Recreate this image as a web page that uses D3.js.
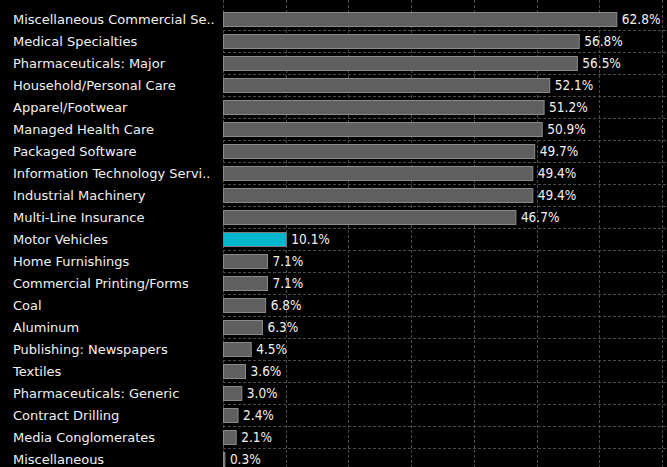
<!DOCTYPE html>
<html>
<head>
<meta charset="utf-8">
<script src="https://cdn.jsdelivr.net/npm/d3@7"></script>
<style>
  html, body { margin: 0; padding: 0; background: #000; }
  svg { display: block; }
</style>
</head>
<body>
<div id="chart"></div>
<script>
// industries, in chart order (top to bottom)
const categories = [
    "Miscellaneous Commercial Se..",
    "Medical Specialties",
    "Pharmaceuticals: Major",
    "Household/Personal Care",
    "Apparel/Footwear",
    "Managed Health Care",
    "Packaged Software",
    "Information Technology Servi..",
    "Industrial Machinery",
    "Multi-Line Insurance",
    "Motor Vehicles",
    "Home Furnishings",
    "Commercial Printing/Forms",
    "Coal",
    "Aluminum",
    "Publishing: Newspapers",
    "Textiles",
    "Pharmaceuticals: Generic",
    "Contract Drilling",
    "Media Conglomerates",
    "Miscellaneous"
];
const values = [62.8, 56.8, 56.5, 52.1, 51.2, 50.9, 49.7, 49.4, 49.4, 46.7,
                10.1, 7.1, 7.1, 6.8, 6.3, 4.5, 3.6, 3.0, 2.4, 2.1, 0.3];
const highlighted = "Motor Vehicles";
const gridTicks = [0, 10, 20, 30, 40, 50, 60, 70];

const data = categories.map((name, i) => ({name: name, value: values[i]}));

const size = {width: 667, height: 467};
const margin = {top: 8, right: 0, bottom: 0, left: 223};
const width = size.width - margin.left - margin.right;
const bandStep = 22;
const innerHeight = bandStep * categories.length;

const svg = d3.select("#chart").append("svg")
    .attr("width", size.width)
    .attr("height", size.height)
    .style("background", "#000");

const g = svg.append("g")
    .attr("transform", "translate(" + margin.left + "," + margin.top + ")");

const xScale = d3.scaleLinear().domain([0, 70]).range([0, 439]);
const yScale = d3.scaleBand()
    .domain(categories)
    .range([0, innerHeight])
    .paddingInner(0.36)
    .paddingOuter(0.18);

// grid: vertical dashed lines
g.append("g").attr("class", "gridX")
    .selectAll("line")
    .data(gridTicks)
    .join("line")
    .attr("x1", d => Math.round(xScale(d)) + 0.5)
    .attr("x2", d => Math.round(xScale(d)) + 0.5)
    .attr("y1", -margin.top)
    .attr("y2", size.height)
    .attr("stroke", "#4a4a4a")
    .attr("stroke-dasharray", "3,2");

// grid: horizontal dashed lines between rows
g.append("g").attr("class", "gridY")
    .selectAll("line")
    .data(d3.range(1, categories.length))
    .join("line")
    .attr("x1", 0)
    .attr("x2", width)
    .attr("y1", d => d * bandStep + 0.5)
    .attr("y2", d => d * bandStep + 0.5)
    .attr("stroke", "#4a4a4a")
    .attr("stroke-dasharray", "3,2");

// bars
g.selectAll(".bar")
    .data(data)
    .join("rect")
    .attr("class", "bar")
    .attr("x", 0.5)
    .attr("y", d => Math.round(yScale(d.name)) + 0.5)
    .attr("width", d => Math.max(1, xScale(d.value) - 0.5))
    .attr("height", Math.round(yScale.bandwidth()))
    .attr("fill", d => d.name === highlighted ? "#00b6cc" : "#5f5f5f")
    .attr("stroke", d => d.name === highlighted ? "#7a7a7a" : "#8a8a8a")
    .attr("stroke-width", 1);

// value labels
g.selectAll(".valueLabel")
    .data(data)
    .join("text")
    .attr("class", "valueLabel")
    .attr("x", d => xScale(d.value) + 5)
    .attr("y", d => yScale(d.name) + yScale.bandwidth() / 2)
    .attr("dy", "0.38em")
    .attr("fill", "#f0f0f0")
    .style("font-family", "'DejaVu Sans Condensed', 'DejaVu Sans', sans-serif")
    .style("font-size", "13.5px")
    .text(d => d.value.toFixed(1) + "%");

// category labels
svg.append("g")
    .attr("transform", "translate(0," + margin.top + ")")
    .selectAll(".catLabel")
    .data(data)
    .join("text")
    .attr("class", "catLabel")
    .attr("x", 13)
    .attr("y", d => yScale(d.name) + yScale.bandwidth() / 2)
    .attr("dy", "0.4em")
    .attr("fill", "#f0f0f0")
    .style("font-family", "'DejaVu Sans', sans-serif")
    .style("font-size", "13px")
    .text(d => d.name);
</script>
</body>
</html>
